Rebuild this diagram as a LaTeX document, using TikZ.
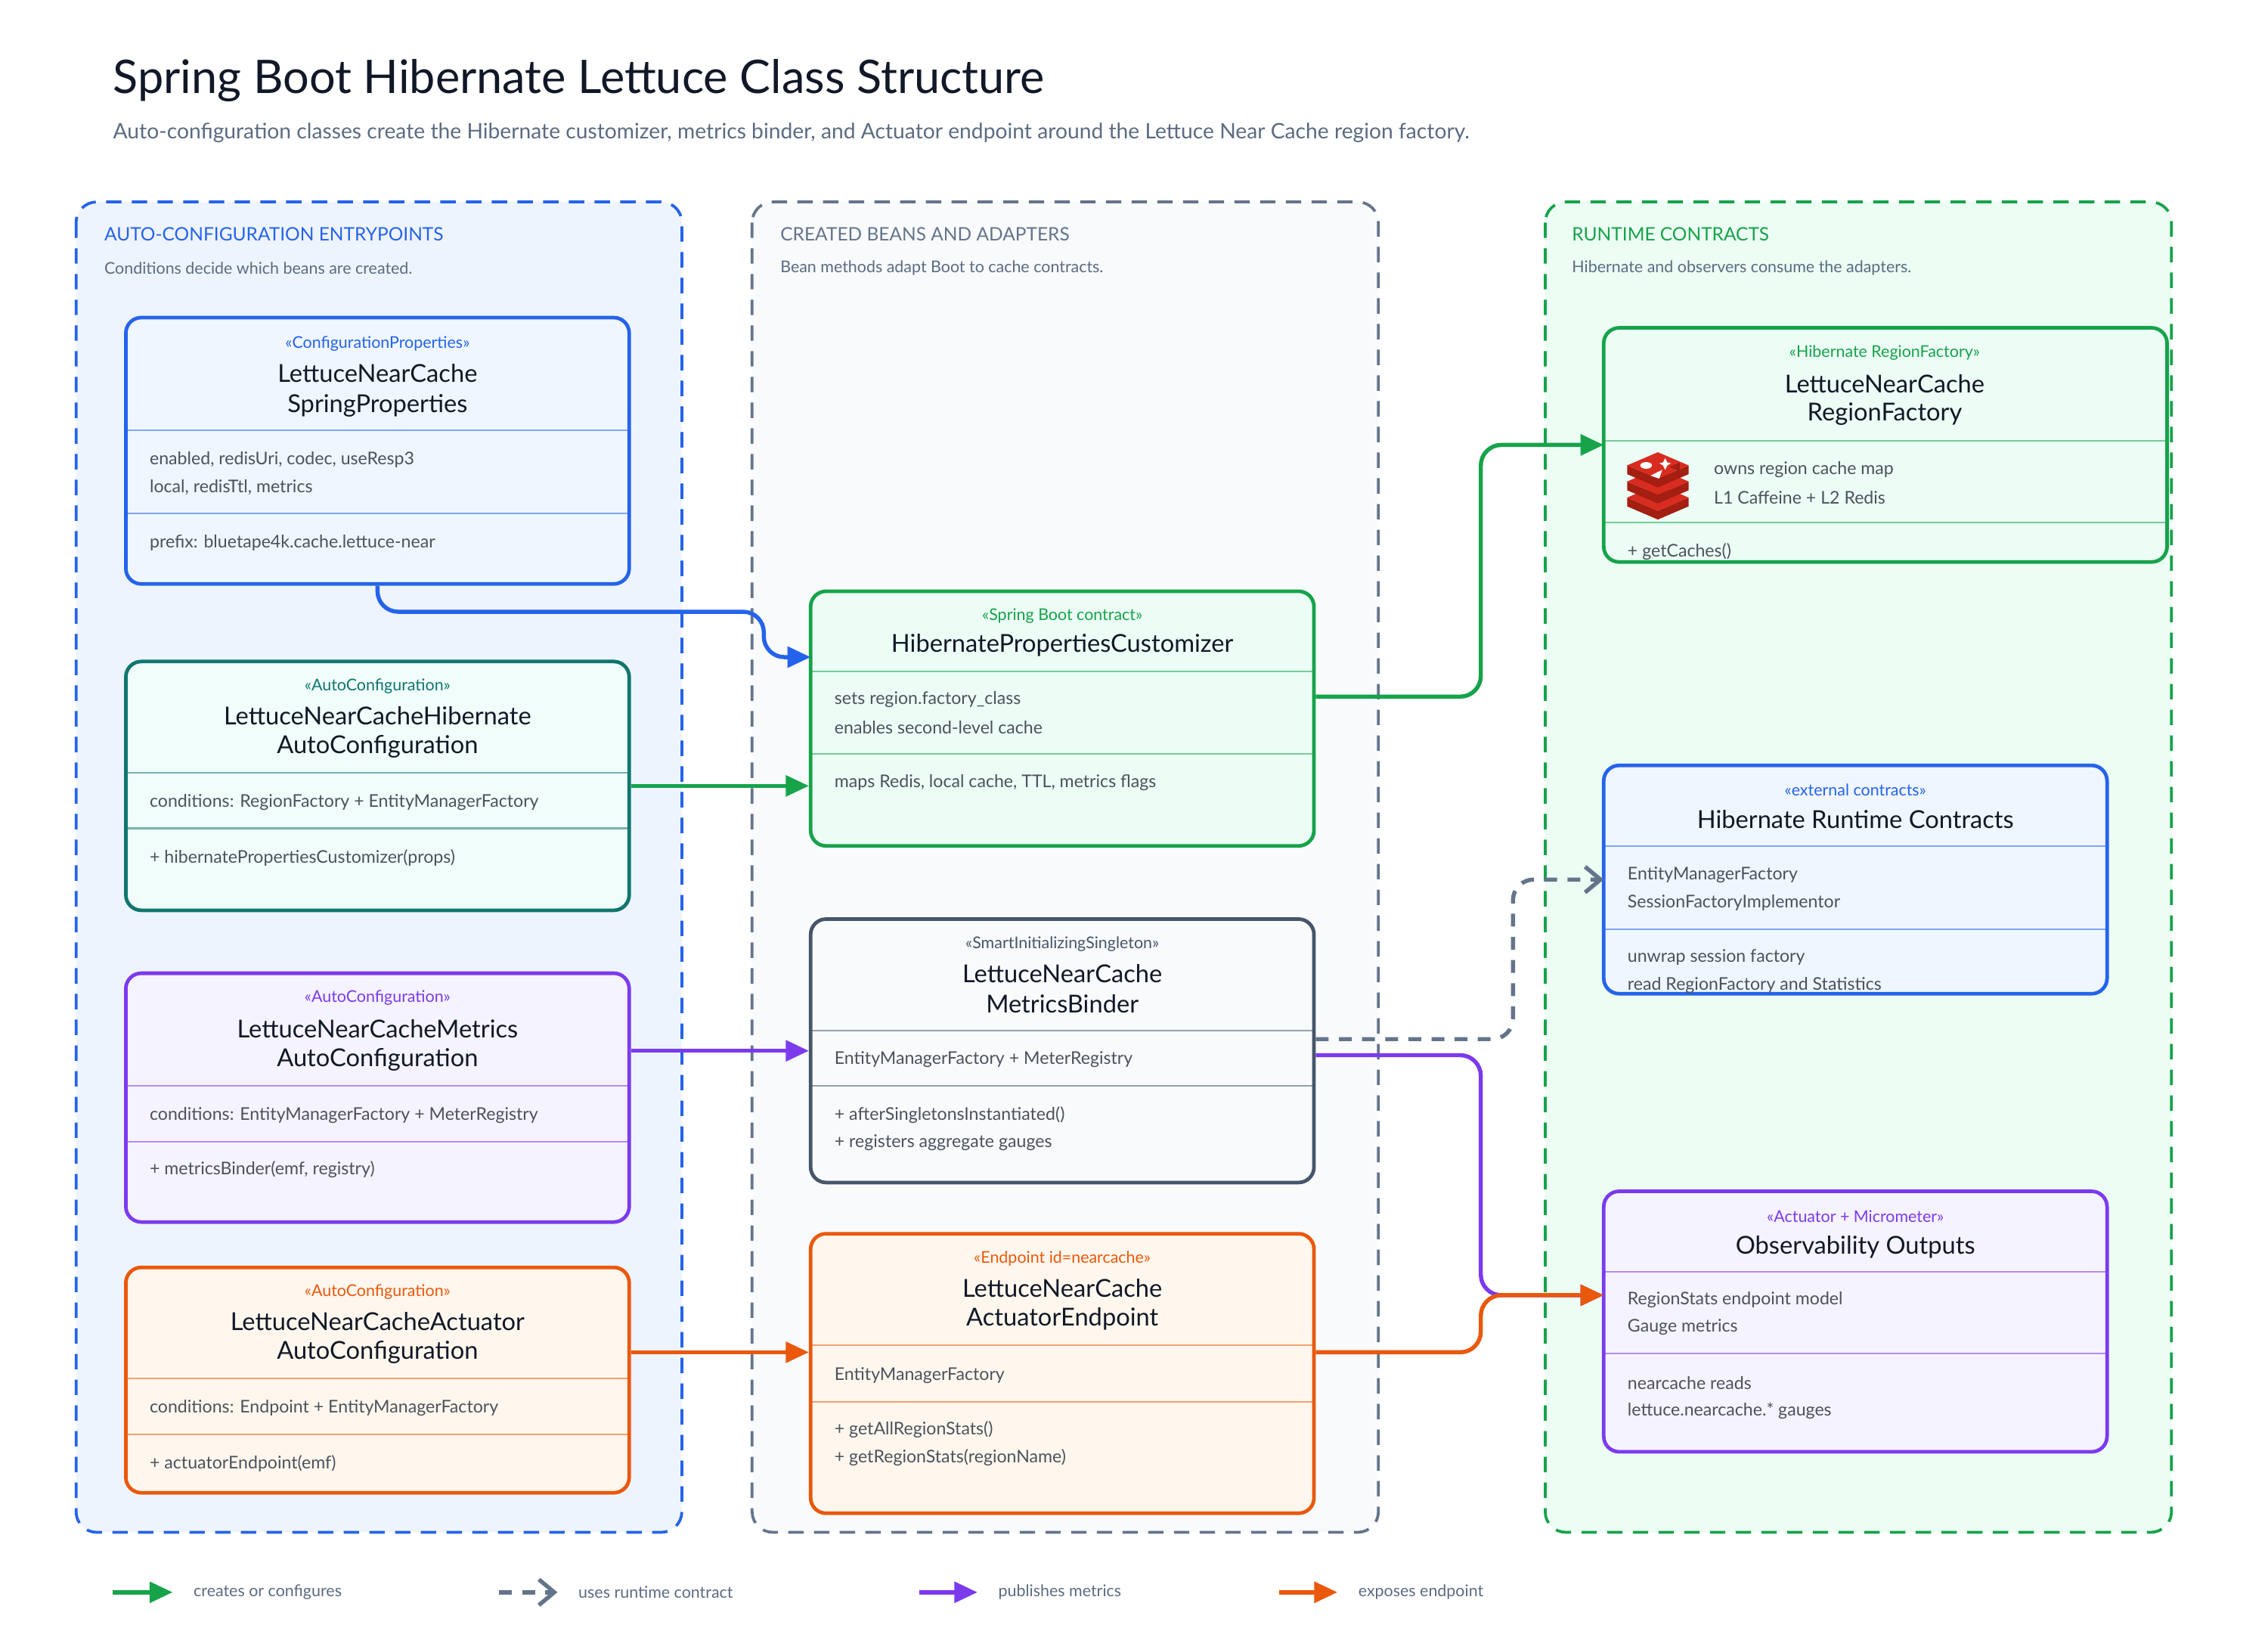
\documentclass[tikz,border=0pt]{standalone}
\usepackage{fontspec}
\setmainfont{Lato}
\usetikzlibrary{arrows.meta}
\definecolor{ink}{HTML}{111827}
\definecolor{mut}{HTML}{5B6B82}
\definecolor{cblue}{HTML}{2563EB}\definecolor{fblue}{HTML}{EFF6FF}\definecolor{lblue}{HTML}{EEF4FE}
\definecolor{cteal}{HTML}{0F766E}\definecolor{fteal}{HTML}{F0FDFA}
\definecolor{cpur}{HTML}{7C3AED}\definecolor{fpur}{HTML}{F5F3FF}
\definecolor{corg}{HTML}{EA580C}\definecolor{forg}{HTML}{FFF7ED}
\definecolor{cgrn}{HTML}{16A34A}\definecolor{fgrn}{HTML}{ECFDF5}\definecolor{lgrn}{HTML}{ECFDF3}
\definecolor{cslate}{HTML}{475569}\definecolor{fslate}{HTML}{F8FAFC}\definecolor{cgray}{HTML}{64748B}
\definecolor{redis}{HTML}{D82C20}\definecolor{redisd}{HTML}{A41E11}
\newcommand\mybox[7]{\node[box,draw=#6,fill=#7,minimum width={(#4-#2)*0.02cm},minimum height={(#5-#3)*0.02cm}] (#1) at ({(#2+#4)/2},{(#3+#5)/2}) {};}
\tikzset{
 x=0.02cm,y=-0.02cm,
 lane/.style={dashed,line width=1.1pt,rounded corners=8pt,dash pattern=on 6pt off 4pt},
 box/.style={rectangle,rounded corners=6pt,line width=1.4pt,inner sep=0pt},
 sep/.style={line width=0.6pt,draw opacity=0.55},
 st/.style={font=\fontsize{6.3}{7}\selectfont,anchor=center,inner sep=0pt},
 ti/.style={font=\fontsize{9.6}{11}\selectfont,text=ink,anchor=center,inner sep=0pt},
 bd/.style={font=\fontsize{6.8}{8}\selectfont,text=ink!75,anchor=west,inner sep=0pt},
 lh/.style={font=\fontsize{7.2}{8}\selectfont,anchor=west,inner sep=0pt},
 ls/.style={font=\fontsize{6.3}{7}\selectfont,text=mut,anchor=west,inner sep=0pt},
 conn/.style={line width=1.6pt,rounded corners=8pt,-{Triangle[length=9pt,width=8pt]}},
 dconn/.style={line width=1.6pt,rounded corners=8pt,dash pattern=on 5pt off 4pt,-{Straight Barb[length=6pt,width=10pt]}},
}
\begin{document}
\begin{tikzpicture}
\useasboundingbox[fill=white] (0,0) rectangle (1550,1116);
% title
\node[anchor=west,inner sep=0pt,font=\fontsize{18}{20}\selectfont,text=ink] (title) at (77,55) {Spring Boot Hibernate Lettuce Class Structure};
\node[anchor=west,inner sep=0pt,font=\fontsize{8.3}{10}\selectfont,text=mut] (sub) at (77,91) {Auto-configuration classes create the Hibernate customizer, metrics binder, and Actuator endpoint around the Lettuce Near Cache region factory.};
% lanes
\draw[lane,draw=cblue,fill=lblue] (52,138) rectangle (466,1047);
\draw[lane,draw=cgray,fill=fslate] (514,138) rectangle (942,1047);
\draw[lane,draw=cgrn,fill=lgrn] (1056,138) rectangle (1484,1047);
\node[lh,text=cblue] (h1) at (71,160) {AUTO-CONFIGURATION ENTRYPOINTS};
\node[ls] (s1) at (71,183) {Conditions decide which beans are created.};
\node[lh,text=cgray] (h2) at (533,160) {CREATED BEANS AND ADAPTERS};
\node[ls] (s2) at (533,183) {Bean methods adapt Boot to cache contracts.};
\node[lh,text=cgrn] (h3) at (1074,160) {RUNTIME CONTRACTS};
\node[ls] (s3) at (1074,183) {Hibernate and observers consume the adapters.};
% box 1
\mybox{b1}{86}{217}{430}{399}{cblue}{fblue}
\node[st,text=cblue] at (258,235) {<<ConfigurationProperties>>};
\node[ti] at (258,255) {LettuceNearCache};
\node[ti] at (258,277) {SpringProperties};
\draw[sep,cblue] (86,294) -- (430,294); \draw[sep,cblue] (86,351) -- (430,351);
\node[bd] at (102,314) {enabled, redisUri, codec, useResp3};
\node[bd] at (102,333) {local, redisTtl, metrics};
\node[bd] at (102,371) {prefix: bluetape4k.cache.lettuce-near};
% box 2
\mybox{b2}{86}{452}{430}{622}{cteal}{fteal}
\node[st,text=cteal] at (258,469) {<<AutoConfiguration>>};
\node[ti] at (258,489) {LettuceNearCacheHibernate};
\node[ti] at (258,510) {AutoConfiguration};
\draw[sep,cteal] (86,528) -- (430,528); \draw[sep,cteal] (86,566) -- (430,566);
\node[bd] at (102,548) {conditions: RegionFactory + EntityManagerFactory};
\node[bd] at (102,586) {+ hibernatePropertiesCustomizer(props)};
% box 3
\mybox{b3}{86}{665}{430}{835}{cpur}{fpur}
\node[st,text=cpur] at (258,682) {<<AutoConfiguration>>};
\node[ti] at (258,703) {LettuceNearCacheMetrics};
\node[ti] at (258,724) {AutoConfiguration};
\draw[sep,cpur] (86,742) -- (430,742); \draw[sep,cpur] (86,780) -- (430,780);
\node[bd] at (102,762) {conditions: EntityManagerFactory + MeterRegistry};
\node[bd] at (102,799) {+ metricsBinder(emf, registry)};
% box 4
\mybox{b4}{86}{866}{430}{1020}{corg}{forg}
\node[st,text=corg] at (258,883) {<<AutoConfiguration>>};
\node[ti] at (258,903) {LettuceNearCacheActuator};
\node[ti] at (258,924) {AutoConfiguration};
\draw[sep,corg] (86,942) -- (430,942); \draw[sep,corg] (86,980) -- (430,980);
\node[bd] at (102,962) {conditions: Endpoint + EntityManagerFactory};
\node[bd] at (102,1000) {+ actuatorEndpoint(emf)};
% box 5
\mybox{b5}{554}{404}{898}{578}{cgrn}{fgrn}
\node[st,text=cgrn] at (726,421) {<<Spring Boot contract>>};
\node[ti] at (726,441) {HibernatePropertiesCustomizer};
\draw[sep,cgrn] (554,459) -- (898,459); \draw[sep,cgrn] (554,515) -- (898,515);
\node[bd] at (570,478) {sets region.factory\_class};
\node[bd] at (570,497) {enables second-level cache};
\node[bd] at (570,535) {maps Redis, local cache, TTL, metrics flags};
% box 6
\mybox{b6}{554}{628}{898}{808}{cslate}{fslate}
\node[st,text=cslate] at (726,645) {<<SmartInitializingSingleton>>};
\node[ti] at (726,665) {LettuceNearCache};
\node[ti] at (726,686) {MetricsBinder};
\draw[sep,cslate] (554,704) -- (898,704); \draw[sep,cslate] (554,742) -- (898,742);
\node[bd] at (570,724) {EntityManagerFactory + MeterRegistry};
\node[bd] at (570,762) {+ afterSingletonsInstantiated()};
\node[bd] at (570,781) {+ registers aggregate gauges};
% box 7
\mybox{b7}{554}{843}{898}{1034}{corg}{forg}
\node[st,text=corg] at (726,860) {<<Endpoint id=nearcache>>};
\node[ti] at (726,880) {LettuceNearCache};
\node[ti] at (726,901) {ActuatorEndpoint};
\draw[sep,corg] (554,919) -- (898,919); \draw[sep,corg] (554,958) -- (898,958);
\node[bd] at (570,940) {EntityManagerFactory};
\node[bd] at (570,977) {+ getAllRegionStats()};
\node[bd] at (570,996) {+ getRegionStats(regionName)};
% box 8
\mybox{b8}{1096}{224}{1481}{384}{cgrn}{fgrn}
\node[st,text=cgrn] at (1288,241) {<<Hibernate RegionFactory>>};
\node[ti] at (1288,262) {LettuceNearCache};
\node[ti] at (1288,283) {RegionFactory};
\draw[sep,cgrn] (1096,301) -- (1481,301); \draw[sep,cgrn] (1096,357) -- (1481,357);
\node[bd] at (1171,321) {owns region cache map};
\node[bd] at (1171,340) {L1 Caffeine + L2 Redis};
\node[bd] at (1112,377) {+ getCaches()};
% redis icon
\foreach \dy in {22,11,0}{
 \fill[redisd] (1112,{318+\dy}) -- (1133,{327+\dy}) -- (1154,{318+\dy}) -- (1154,{324+\dy}) -- (1133,{333+\dy}) -- (1112,{324+\dy}) -- cycle;
 \fill[redis] (1112,{318+\dy}) -- (1133,{309+\dy}) -- (1154,{318+\dy}) -- (1133,{327+\dy}) -- cycle;
}
\fill[white] (1125,318) ellipse (4 and 2.3);
\fill[white] (1128,325) -- (1136,321) -- (1134,327) -- cycle;
\fill[white] (1138,313) -- (1139.5,316) -- (1142,316.5) -- (1139.5,318) -- (1138,321) -- (1136.5,318) -- (1134,316.5) -- (1136.5,316) -- cycle;
\fill[redisd] (1141,319) -- (1148,316) -- (1148,322) -- cycle;
% box 9
\mybox{b9}{1096}{523}{1440}{679}{cblue}{fblue}
\node[st,text=cblue] at (1268,540) {<<external contracts>>};
\node[ti] at (1268,560) {Hibernate Runtime Contracts};
\draw[sep,cblue] (1096,578) -- (1440,578); \draw[sep,cblue] (1096,635) -- (1440,635);
\node[bd] at (1112,598) {EntityManagerFactory};
\node[bd] at (1112,617) {SessionFactoryImplementor};
\node[bd] at (1112,654) {unwrap session factory};
\node[bd] at (1112,673) {read RegionFactory and Statistics};
% box 10
\mybox{b10}{1096}{814}{1440}{992}{cpur}{fpur}
\node[st,text=cpur] at (1268,831) {<<Actuator + Micrometer>>};
\node[ti] at (1268,852) {Observability Outputs};
\draw[sep,cpur] (1096,869) -- (1440,869); \draw[sep,cpur] (1096,925) -- (1440,925);
\node[bd] at (1112,888) {RegionStats endpoint model};
\node[bd] at (1112,907) {Gauge metrics};
\node[bd] at (1112,945) {nearcache reads};
\node[bd] at (1112,964) {lettuce.nearcache.* gauges};
% connectors
\coordinate (b5a) at (554,449);
\coordinate (b8a) at (1096,304);
\coordinate (b10a) at (1096,885);
\coordinate (b9a) at (1096,601);
\draw[conn,cblue] (b1.south) -- (258,418) -- (522,418) -- (522,449) -- (b5a);
\draw[conn,cgrn] (b2.east|-0,537) -- (b5.west|-0,537);
\draw[conn,cgrn] (b5.east|-0,476) -- (1012,476) -- (1012,304) -- (b8a);
\draw[conn,cpur] (b3.east|-0,718) -- (b6.west|-0,718);
\draw[dconn,cgray] (b6.east|-0,710) -- (1034,710) -- (1034,601) -- (b9a);
\draw[conn,cpur] (b6.east|-0,721) -- (1012,721) -- (1012,885) -- (b10a);
\draw[conn,corg] (b4.east|-0,924) -- (b7.west|-0,924);
\draw[conn,corg] (b7.east|-0,924) -- (1012,924) -- (1012,885) -- (b10a);
% legend
\coordinate (l1a) at (77,1088); \coordinate (l1b) at (118,1088);
\coordinate (l2a) at (341,1088); \coordinate (l2b) at (381,1088);
\coordinate (l3a) at (628,1088); \coordinate (l3b) at (668,1088);
\coordinate (l4a) at (874,1088); \coordinate (l4b) at (914,1088);
\draw[conn,cgrn] (l1a) -- (l1b);
\draw[dconn,cgray] (l2a) -- (l2b);
\draw[conn,cpur] (l3a) -- (l3b);
\draw[conn,corg] (l4a) -- (l4b);
\node[ls] at (132,1088) {creates or configures};
\node[ls] at (395,1088) {uses runtime contract};
\node[ls] at (682,1088) {publishes metrics};
\node[ls] at (928,1088) {exposes endpoint};
\end{tikzpicture}
\end{document}
